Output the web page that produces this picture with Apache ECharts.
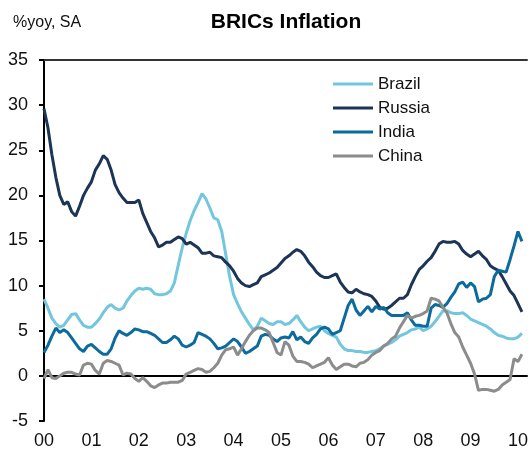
<!DOCTYPE html>
<html>
<head>
<meta charset="utf-8">
<script src="https://cdn.jsdelivr.net/npm/echarts@6/dist/echarts.min.js"></script>
<style>
  html, body { margin: 0; padding: 0; background: #fff; }
  #chart { width: 531px; height: 450px; }
</style>
</head>
<body>
<div id="chart"></div>
<script>
// monthly, Jan 2000 .. Feb 2010
const startYear = 2000;
const yearLabels = ['00', '01', '02', '03', '04', '05', '06', '07', '08', '09', '10'];
const seriesNames = ['Brazil', 'Russia', 'India', 'China'];

const brazil = [
  8.5, 7.5, 6.4, 5.8, 5.4, 5.6, 6.2, 6.8, 6.9, 6.2, 5.6, 5.4,
  5.4, 5.8, 6.3, 7.0, 7.6, 7.9, 7.5, 7.3, 7.5, 8.3, 8.9, 9.4,
  9.7, 9.6, 9.7, 9.6, 9.1, 9.0, 9.0, 9.1, 9.4, 10.3, 12.3, 14.2,
  15.8, 17.2, 18.3, 19.2, 20.2, 19.6, 18.6, 17.5, 17.3, 16.0, 13.5, 11.0,
  9.0, 8.0, 7.1, 6.4, 5.7, 5.1, 5.5, 6.4, 6.1, 5.8, 5.7, 6.0,
  6.0, 5.7, 5.8, 6.2, 6.7, 6.0, 5.4, 5.0, 5.2, 5.4, 5.5, 5.0,
  4.7, 4.5, 4.3, 3.5, 3.0, 2.8, 2.8, 2.7, 2.7, 2.6, 2.6, 2.7,
  2.8, 3.0, 3.3, 3.5, 3.7, 4.0, 4.4, 4.6, 4.8, 5.1, 5.2, 5.4,
  5.0, 5.2, 5.5, 6.0, 6.6, 7.2, 7.2, 7.0, 6.9, 6.9, 7.0, 6.7,
  6.3, 6.1, 5.9, 5.7, 5.5, 5.2, 4.8, 4.5, 4.4, 4.2, 4.1, 4.1,
  4.3, 4.7
];

const russia = [
  29.6, 27.5, 24.5, 22.0, 20.0, 19.0, 19.3, 18.2, 17.7, 18.8, 20.0, 20.8,
  21.5, 22.8, 23.5, 24.4, 24.0, 22.8, 21.2, 20.3, 19.7, 19.2, 19.2, 19.2,
  19.5, 18.0, 17.0, 16.0, 15.3, 14.3, 14.5, 14.8, 14.8, 15.1, 15.4, 15.2,
  14.6, 14.8, 14.5, 14.2, 13.6, 13.6, 13.7, 13.3, 13.2, 13.1, 12.6, 12.2,
  11.6, 10.8, 10.3, 10.0, 9.9, 10.1, 10.3, 11.0, 11.2, 11.4, 11.7, 12.0,
  12.5, 13.0, 13.3, 13.7, 14.0, 13.8, 13.3, 12.6, 12.1, 11.5, 11.1, 10.9,
  10.9, 11.1, 11.3, 10.4, 9.8, 9.3, 9.2, 9.6, 9.3, 9.1, 9.0, 8.8,
  8.3, 7.6, 7.4, 7.5, 7.8, 8.2, 8.6, 8.6, 9.0, 10.1, 11.0, 11.8,
  12.2, 12.7, 13.1, 13.8, 14.6, 14.9, 14.8, 14.8, 14.9, 14.6, 13.9, 13.5,
  13.2, 13.5, 13.8, 13.3, 12.9, 12.2, 11.9, 11.7, 11.0, 10.2, 9.4, 8.9,
  8.0, 7.1
];

const india = [
  2.6, 3.4, 4.4, 5.3, 4.8, 5.1, 4.8, 4.2, 3.6, 3.0, 2.7, 3.3,
  3.5, 3.1, 2.7, 2.4, 2.4, 3.0, 4.2, 5.0, 4.7, 4.5, 4.8, 5.2,
  5.1, 4.9, 4.9, 4.7, 4.5, 4.1, 3.7, 3.7, 4.0, 4.4, 4.1, 3.4,
  3.2, 3.4, 3.7, 4.8, 4.6, 4.4, 4.1, 3.6, 3.0, 3.1, 3.3, 3.7,
  4.1, 3.8, 3.2, 2.5, 2.7, 3.0, 3.3, 4.4, 4.6, 4.5, 4.1, 3.8,
  4.2, 4.3, 4.2, 4.9, 4.0, 4.3, 3.8, 3.6, 4.2, 4.6, 5.2, 5.4,
  5.2, 4.6, 4.8, 5.0, 6.4, 7.8, 8.5, 7.3, 6.7, 7.2, 7.7, 7.1,
  7.7, 7.4, 7.6, 7.0, 6.7, 6.7, 6.7, 6.7, 7.0, 6.2, 5.6, 5.6,
  5.5, 5.5, 7.5, 7.9, 7.8, 7.6, 8.0, 8.7, 9.3, 10.2, 10.4, 9.8,
  10.3, 9.9, 8.2, 8.5, 8.6, 9.0, 11.0, 11.7, 11.6, 11.5, 12.9, 14.4,
  16.0, 14.9
];

const china = [
  -0.3, 0.7, -0.2, -0.3, 0.0, 0.3, 0.4, 0.4, 0.2, 0.1, 1.2, 1.4,
  1.3, 0.6, 0.2, 1.4, 1.7, 1.6, 1.4, 1.2, 0.1, 0.3, 0.2, -0.3,
  -0.6, -0.2, -0.6, -1.1, -1.3, -1.0, -0.8, -0.8, -0.7, -0.7, -0.7, -0.5,
  0.2, 0.4, 0.6, 0.8, 0.7, 0.4, 0.5, 0.9, 1.4, 2.3, 2.9, 3.0,
  3.2, 2.3, 3.0, 3.8, 4.5, 5.0, 5.3, 5.3, 5.1, 4.8, 3.7, 2.6,
  2.3, 3.8, 3.4, 2.2, 1.6, 1.6, 1.5, 1.3, 0.9, 1.1, 1.3, 1.5,
  2.0, 1.2, 0.7, 1.0, 1.3, 1.3, 1.1, 1.0, 1.4, 1.5, 1.8, 2.3,
  2.6, 2.8, 3.3, 3.6, 4.1, 4.4, 5.3, 6.0, 6.7, 6.4, 6.6, 6.7,
  6.9, 7.2, 8.6, 8.5, 8.3, 7.6, 7.0, 5.8, 4.8, 4.3, 3.2, 2.3,
  1.4, 0.2, -1.6, -1.5, -1.5, -1.6, -1.7, -1.5, -1.0, -0.7, -0.4, 1.9,
  1.6, 2.4
];

const colors = ['#72c6dd', '#1c3556', '#0b6b9c', '#8c8c8c'];
const font = 'Liberation Sans, Arial, sans-serif';

// 月份 -> 年份小数位置
const toPairs = (arr) => arr.map((v, i) => [startYear + i / 12, v]);

const chart = echarts.init(document.getElementById('chart'));

const series = [brazil, russia, india, china].map((arr, k) => ({
  name: seriesNames[k],
  type: 'line',
  data: toPairs(arr),
  symbol: 'none',
  showSymbol: false,
  lineStyle: { color: colors[k], width: 3 },
  itemStyle: { color: colors[k] },
  z: 3 + k
}));

// zero line
series[0].markLine = {
  silent: true,
  symbol: 'none',
  label: { show: false },
  lineStyle: { color: '#000', width: 2, type: 'solid' },
  data: [{ yAxis: 0 }],
  z: 1
};

chart.setOption({
  animation: false,
  backgroundColor: '#fff',
  title: [
    {
      text: 'BRICs Inflation',
      left: 281,
      top: 7,
      textAlign: 'center',
      textStyle: { fontFamily: font, fontSize: 21, fontWeight: 'bold', color: '#000' }
    },
    {
      text: '%yoy, SA',
      left: 8,
      top: 10,
      textStyle: { fontFamily: font, fontSize: 16, fontWeight: 'normal', color: '#111' }
    }
  ],
  legend: {
    orient: 'vertical',
    left: 328,
    top: 70,
    icon: 'rect',
    itemWidth: 40,
    itemHeight: 3,
    itemGap: 6,
    textStyle: { fontFamily: font, fontSize: 17, lineHeight: 18, color: '#111' },
    data: seriesNames
  },
  grid: { left: 44, right: 0, top: 60, bottom: 28, containLabel: false },
  xAxis: [
    {
      type: 'value',
      min: 2000,
      max: 2010.19,
      interval: 1,
      splitLine: { show: false },
      axisLine: { show: true, lineStyle: { color: '#000', width: 2 } },
      axisTick: { show: false },
      axisLabel: {
        margin: 11,
        fontFamily: font,
        fontSize: 18,
        color: '#111',
        showMaxLabel: false,
        formatter: (v) => {
          const r = Math.round(v);
          if (Math.abs(v - r) > 0.01) return '';
          return yearLabels[r - startYear] || '';
        }
      }
    },
    {
      type: 'value',
      position: 'top',
      min: 2000,
      max: 2010.19,
      splitLine: { show: false },
      axisLine: { show: true, onZero: false, lineStyle: { color: '#333', width: 2 } },
      axisTick: { show: false },
      axisLabel: { show: false }
    }
  ],
  yAxis: {
    type: 'value',
    min: -5,
    max: 35,
    interval: 5,
    splitLine: { show: false },
    axisLine: { show: true, onZero: false, lineStyle: { color: '#000', width: 2 } },
    axisTick: { show: true, length: 5, lineStyle: { color: '#000', width: 2 } },
    axisLabel: { margin: 16, fontFamily: font, fontSize: 18, color: '#111' }
  },
  series: series
});
</script>
</body>
</html>
